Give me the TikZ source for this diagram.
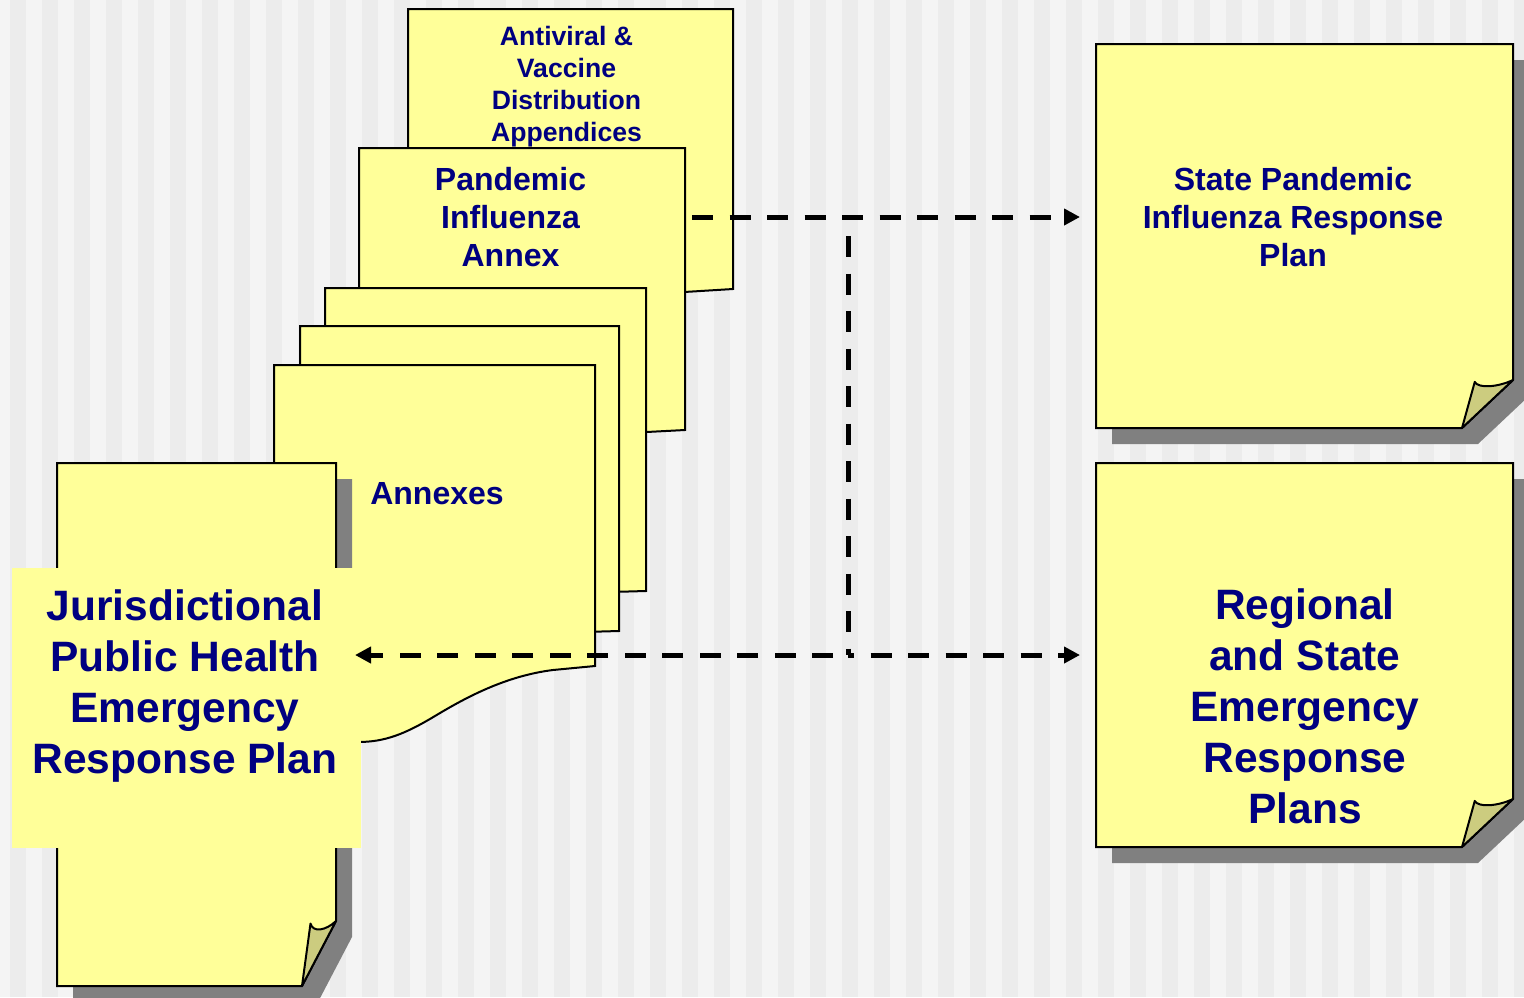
\documentclass[tikz,border=0pt]{standalone}
\usepackage{fontspec}
\setmainfont{Liberation Sans}
\usetikzlibrary{calc,positioning,arrows.meta}

% curled sticky note: name, left, top, right, bottom, fold width, fold height
\newcommand{\curlnote}[7]{%
    \fill[noteshadow] (#2+16,#3+16) -- (#4+16,#3+16) -- (#4+16,#5-#7+16) -- (#4-#6+16,#5+16) -- (#2+16,#5+16) -- cycle;
    \draw[paper] (#2,#3) -- (#4,#3) -- (#4,#5-#7) -- (#4-#6,#5) -- (#2,#5) -- cycle;
    \draw[curl] (#4-#6,#5) -- (#4-0.75*#6,#5-0.96*#7)
        .. controls (#4-0.68*#6,#5-0.82*#7) and (#4-0.3*#6,#5-0.85*#7) .. (#4,#5-#7) -- cycle;
    \node[sheetbox,minimum width=#4-#2,minimum height=#5-#3] (#1) at (#2,#3) {};
}

\begin{document}
\begin{tikzpicture}[
            x=1pt,y=-1pt,
            line width=2pt,
            paper/.style={fill=noteyel,draw=black},
            curl/.style={fill=notefold,draw=black,line join=round},
            noteshadow/.style={fill=shadowgray},
            sheetbox/.style={inner sep=0pt,anchor=north west},
            dashlink/.style={line width=5pt,dash pattern=on 21pt off 16.5pt,-{Triangle[length=16pt,width=16pt]}},
            every node/.style={text=textblue,align=center},
            bigtext/.style={font=\fontsize{42.5}{51}\selectfont\bfseries},
            midtext/.style={font=\fontsize{32}{38}\selectfont\bfseries},
            smalltext/.style={font=\fontsize{26.6}{32}\selectfont\bfseries}
        ]
            \definecolor{noteyel}{HTML}{FFFF99}
            \definecolor{notefold}{HTML}{CCCC7F}
            \definecolor{shadowgray}{HTML}{808080}
            \definecolor{textblue}{HTML}{000080}
            \definecolor{stripelt}{HTML}{F4F4F4}
            \definecolor{stripedk}{HTML}{ECECEC}

            % striped background
            \clip (0,0) rectangle (1524,997);
            \fill[stripelt] (0,0) rectangle (1524,997);
            \foreach \x in {10,42,...,1514}
                \fill[stripedk] (\x,0) rectangle ++(16,997);

            % stack of annex sheets, back to front
            \draw[paper] (408,9) -- (733,9) -- (733,289) -- (408,309) -- cycle;
            \draw[paper] (359,148) -- (685,148) -- (685,430) -- (359,447) -- cycle;
            \node[sheetbox,minimum width=326pt,minimum height=282pt] (piasheet) at (359,148) {};
            \draw[paper] (325,288) -- (646,288) -- (646,591) -- (325,600) -- cycle;
            \draw[paper] (300,326) -- (619,326) -- (619,631) -- (300,640) -- cycle;
            \draw[paper] (274,365) -- (595,365) -- (595,666) -- (553,670)
                .. controls (505,676) and (465,698) .. (435,716)
                .. controls (405,734) and (385,742) .. (358,742) -- (274,742) -- cycle;

            % plans
            \curlnote{jursheet}{57}{463}{336}{986}{34}{65}
            \node[sheetbox,fill=noteyel,minimum width=349pt,minimum height=280pt] (jurbox) at (11,567) {};
            \curlnote{state}{1096}{44}{1513}{428}{51}{48}
            \curlnote{regional}{1096}{463}{1513}{847}{51}{48}

            % labels
            \node[smalltext] (avd) at (566.5,86.5) {Antiviral \&\\Vaccine\\Distribution\\Appendices};
            \node[midtext]   (pia) at (510.5,217.5) {Pandemic\\Influenza\\Annex};
            \node[midtext]   (anx) at (437,493.5) {Annexes};
            \node[bigtext]   (jur) at (185,685.5) {Jurisdictional\\Public Health\\Emergency\\Response Plan};
            \node[midtext]   (spr) at (1293,217) {State Pandemic\\Influenza Response\\Plan};
            \node[bigtext]   (rsp) at (1305,706) {Regional\\and State\\Emergency\\Response\\Plans};

            % links
            \coordinate (junc) at (848,655);
            \draw[dashlink,shorten <=5pt,shorten >=16pt] (piasheet.east |- spr) -- (state.west |- spr);
            \draw[dashlink,-,shorten <=19pt] (junc |- spr) -- (junc);
            \draw[dashlink,dash phase=22.5pt,shorten >=-7pt] (junc) -- (jurbox.east |- junc);
            \draw[dashlink,dash phase=15pt,shorten >=16pt] (junc) -- (regional.west |- junc);
        \end{tikzpicture}
\end{document}
